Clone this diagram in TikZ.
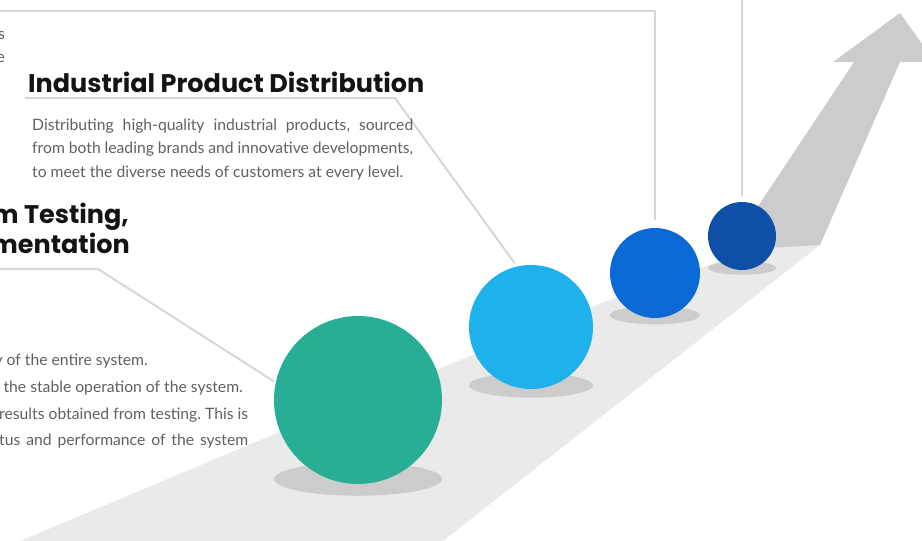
\documentclass[tikz,border=0pt]{standalone}
\usepackage{fontspec}
\setmainfont{Lato}
\newfontfamily\headfont{Poppins}
\usetikzlibrary{calc,positioning}
\frenchspacing

\definecolor{roadgray}{HTML}{EAEAEA}
\definecolor{arrowgray}{HTML}{CCCCCC}
\definecolor{leadgray}{HTML}{D6D6D6}
\definecolor{textgray}{HTML}{606060}
\definecolor{ballgreen}{HTML}{28AE95}
\definecolor{ballsky}{HTML}{1EB1EB}
\definecolor{ballblue}{HTML}{0A69D5}
\definecolor{ballnavy}{HTML}{0E50A8}

\tikzset{
  ball/.style={circle, inner sep=0pt, minimum size=#1},
  leader/.style={draw=leadgray, line width=2pt, line join=miter},
  heading/.style={font=\headfont\bfseries\fontsize{25.5}{30}\selectfont, text=black!92, inner sep=0pt},
  bodytext/.style={font=\fontsize{15.7}{23.5}\selectfont, text=textgray, inner sep=0pt},
  bodytextlow/.style={font=\fontsize{15.7}{26.5}\selectfont, text=textgray, inner sep=0pt},
}

\begin{document}
\begin{tikzpicture}[x=1pt,y=-1pt]
  \useasboundingbox (0,0) rectangle (922,541);
  % road and arrow
  \fill[roadgray] (20,541) -- (277,433) -- (470,356) -- (612,299) -- (760,247) -- (820,245) -- (443,541) -- cycle;
  \fill[arrowgray] (729,250) -- (854,62) -- (833,62) -- (900,13) -- (935,62) -- (900,62) -- (820,245) -- cycle;

  % balls with their shadows
  \foreach \name/\x/\y/\r/\col in {c1/358/400/84/ballgreen, c2/531/327/62/ballsky, c3/655/273/45/ballblue, c4/742/236/34/ballnavy} {
    \fill[arrowgray] ($(\x,\y)+(0,{0.94*\r})$) ellipse [x radius=\r, y radius={0.2*\r}];
    \node[ball={2*\r pt}, fill=\col] at (\x,\y) (\name) {};
  }

  % leader lines
  \coordinate (topleft) at (-5,11);
  \coordinate (topbend) at (655,11);
  \coordinate (topedge) at (742,-5);
  \coordinate (ulstart) at (25,98);
  \coordinate (ulbend) at (395,98);
  \coordinate (lowstart) at (-5,269);
  \coordinate (lowbend) at (98,269);
  \draw[leader, shorten >=8pt] (topleft) -- (topbend) -- (c3.north);
  \draw[leader, shorten >=6pt] (topedge) -- (c4.north);
  \draw[leader, shorten >=4pt] (ulstart) -- (ulbend) -- (c2.103);
  \draw[leader, shorten >=2pt] (lowstart) -- (lowbend) -- (c1.168);

  % texts
  \node[bodytext, anchor=base east] at (5,39) (prevA) {s};
  \node[bodytext, anchor=base east] at (5,62) (prevB) {e};
  \node[heading, anchor=base west] at (28,92) (distTitle) {Industrial Product Distribution};
  \node[bodytext, anchor=north west, text width=381pt, align=justify] at (32,118.5) (distText)
    {Distributing high-quality industrial products, sourced\linebreak
     from both leading brands and innovative developments,\linebreak
     to meet the diverse needs of customers at every level.};
  \node[heading, anchor=base east] at (129,223) (testTitleA) {m Testing,};
  \node[heading, anchor=base east] at (130,253) (testTitleB) {mentation};
  \node[bodytextlow, anchor=base east] at (148,365) (testLineA) {y of the entire system.};
  \node[bodytextlow, anchor=base east] at (243,392) (testLineB) {g the stable operation of the system.};
  \node[bodytextlow, anchor=base west] at (-1,419) (testLineC) {\makebox[249pt][s]{results obtained from testing. This is}};
  \node[bodytextlow, anchor=base west] at (-1,445) (testLineD) {\makebox[249pt][s]{tus and performance of the system}};
\end{tikzpicture}
\end{document}
